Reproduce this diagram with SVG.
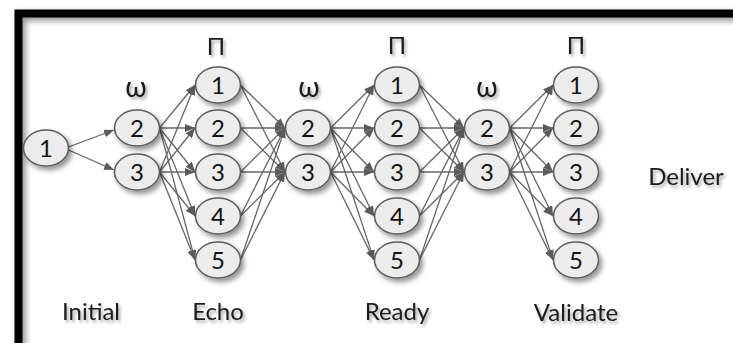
<svg xmlns="http://www.w3.org/2000/svg" width="733" height="343" viewBox="0 0 733 343">
<defs>
<style>
.t{font-family:Lato,"Open Sans","Liberation Sans",sans-serif;fill:#1a1a1a;text-anchor:middle}
.lbl{font-size:24px;filter:url(#ts)}
.sym{font-size:24px;filter:url(#ts)}
.om{font-size:28px;filter:url(#ts)}
.nd ellipse{fill:#ececec;stroke:#5c5c5c;stroke-width:1.5;filter:url(#ns)}
.nd text{font-family:Lato,"Open Sans","Liberation Sans",sans-serif;font-size:24px;fill:#141414;text-anchor:middle}
#edges line{stroke:#666;stroke-width:1.3;marker-end:url(#ah)}
</style>
<filter id="ns" x="-30%" y="-30%" width="170%" height="180%"><feDropShadow dx="3" dy="3.5" stdDeviation="2.4" flood-color="#000" flood-opacity="0.42"/></filter>
<filter id="ts" x="-20%" y="-30%" width="150%" height="180%"><feDropShadow dx="2" dy="2.5" stdDeviation="1.6" flood-color="#000" flood-opacity="0.35"/></filter>
<filter id="fs" x="-10%" y="-10%" width="130%" height="130%"><feDropShadow dx="3" dy="3" stdDeviation="3" flood-color="#000" flood-opacity="0.45"/></filter>
<marker id="ah" markerUnits="userSpaceOnUse" markerWidth="11" markerHeight="8" refX="10" refY="4" orient="auto"><path d="M0,0 L10,4 L0,8 z" fill="#5a5a5a"/></marker>
</defs>
<rect width="733" height="343" fill="#fff"/>
<rect x="18.5" y="13.5" width="800" height="500" fill="none" stroke="#000" stroke-width="8" filter="url(#fs)"/>

<g id="labels">
<text class="t om" x="136" y="97">ω</text>
<text class="t om" x="309" y="97">ω</text>
<text class="t om" x="487" y="97">ω</text>
<text class="t sym" x="216" y="55">Π</text>
<text class="t sym" x="397" y="54">Π</text>
<text class="t sym" x="576" y="54">Π</text>
<text class="t lbl" x="91" y="320">Initial</text>
<text class="t lbl" x="218" y="320">Echo</text>
<text class="t lbl" x="397" y="320">Ready</text>
<text class="t lbl" x="576" y="321">Validate</text>
<text class="t lbl" x="686" y="185">Deliver</text>
</g>

<g id="edges">
<line x1="68.5" y1="147" x2="114" y2="130"/>
<line x1="68.5" y1="150" x2="114" y2="170"/>

<line x1="159.5" y1="128" x2="195" y2="85"/>
<line x1="159.5" y1="128" x2="195" y2="128"/>
<line x1="159.5" y1="128" x2="195" y2="172"/>
<line x1="159.5" y1="128" x2="195" y2="216"/>
<line x1="159.5" y1="128" x2="195" y2="260"/>
<line x1="159.5" y1="172" x2="195" y2="85"/>
<line x1="159.5" y1="172" x2="195" y2="128"/>
<line x1="159.5" y1="172" x2="195" y2="172"/>
<line x1="159.5" y1="172" x2="195" y2="216"/>
<line x1="159.5" y1="172" x2="195" y2="260"/>

<line x1="240.5" y1="85" x2="285" y2="128"/>
<line x1="240.5" y1="128" x2="285" y2="128"/>
<line x1="240.5" y1="172" x2="285" y2="128"/>
<line x1="240.5" y1="216" x2="285" y2="128"/>
<line x1="240.5" y1="260" x2="285" y2="128"/>
<line x1="240.5" y1="85" x2="285" y2="172"/>
<line x1="240.5" y1="128" x2="285" y2="172"/>
<line x1="240.5" y1="172" x2="285" y2="172"/>
<line x1="240.5" y1="216" x2="285" y2="172"/>
<line x1="240.5" y1="260" x2="285" y2="172"/>

<line x1="330.5" y1="128" x2="374" y2="85"/>
<line x1="330.5" y1="128" x2="374" y2="128"/>
<line x1="330.5" y1="128" x2="374" y2="172"/>
<line x1="330.5" y1="128" x2="374" y2="216"/>
<line x1="330.5" y1="128" x2="374" y2="260"/>
<line x1="330.5" y1="172" x2="374" y2="85"/>
<line x1="330.5" y1="172" x2="374" y2="128"/>
<line x1="330.5" y1="172" x2="374" y2="172"/>
<line x1="330.5" y1="172" x2="374" y2="216"/>
<line x1="330.5" y1="172" x2="374" y2="260"/>

<line x1="419.5" y1="85" x2="464" y2="128"/>
<line x1="419.5" y1="128" x2="464" y2="128"/>
<line x1="419.5" y1="172" x2="464" y2="128"/>
<line x1="419.5" y1="216" x2="464" y2="128"/>
<line x1="419.5" y1="260" x2="464" y2="128"/>
<line x1="419.5" y1="85" x2="464" y2="172"/>
<line x1="419.5" y1="128" x2="464" y2="172"/>
<line x1="419.5" y1="172" x2="464" y2="172"/>
<line x1="419.5" y1="216" x2="464" y2="172"/>
<line x1="419.5" y1="260" x2="464" y2="172"/>

<line x1="509.5" y1="128" x2="553" y2="85"/>
<line x1="509.5" y1="128" x2="553" y2="128"/>
<line x1="509.5" y1="128" x2="553" y2="172"/>
<line x1="509.5" y1="128" x2="553" y2="216"/>
<line x1="509.5" y1="128" x2="553" y2="260"/>
<line x1="509.5" y1="172" x2="553" y2="85"/>
<line x1="509.5" y1="172" x2="553" y2="128"/>
<line x1="509.5" y1="172" x2="553" y2="172"/>
<line x1="509.5" y1="172" x2="553" y2="216"/>
<line x1="509.5" y1="172" x2="553" y2="260"/>
</g>

<g id="init-1" class="nd"><ellipse cx="46" cy="148" rx="22.5" ry="18"/><text x="46" y="156.5">1</text></g>

<g id="w1-2" class="nd"><ellipse cx="137" cy="128" rx="22.5" ry="18"/><text x="137" y="136.5">2</text></g>
<g id="w1-3" class="nd"><ellipse cx="137" cy="172" rx="22.5" ry="18"/><text x="137" y="180.5">3</text></g>

<g id="p1-1" class="nd"><ellipse cx="218" cy="85" rx="22.5" ry="18"/><text x="218" y="93.5">1</text></g>
<g id="p1-2" class="nd"><ellipse cx="218" cy="128" rx="22.5" ry="18"/><text x="218" y="136.5">2</text></g>
<g id="p1-3" class="nd"><ellipse cx="218" cy="172" rx="22.5" ry="18"/><text x="218" y="180.5">3</text></g>
<g id="p1-4" class="nd"><ellipse cx="218" cy="216" rx="22.5" ry="18"/><text x="218" y="224.5">4</text></g>
<g id="p1-5" class="nd"><ellipse cx="218" cy="260" rx="22.5" ry="18"/><text x="218" y="268.5">5</text></g>

<g id="w2-2" class="nd"><ellipse cx="308" cy="128" rx="22.5" ry="18"/><text x="308" y="136.5">2</text></g>
<g id="w2-3" class="nd"><ellipse cx="308" cy="172" rx="22.5" ry="18"/><text x="308" y="180.5">3</text></g>

<g id="p2-1" class="nd"><ellipse cx="397" cy="85" rx="22.5" ry="18"/><text x="397" y="93.5">1</text></g>
<g id="p2-2" class="nd"><ellipse cx="397" cy="128" rx="22.5" ry="18"/><text x="397" y="136.5">2</text></g>
<g id="p2-3" class="nd"><ellipse cx="397" cy="172" rx="22.5" ry="18"/><text x="397" y="180.5">3</text></g>
<g id="p2-4" class="nd"><ellipse cx="397" cy="216" rx="22.5" ry="18"/><text x="397" y="224.5">4</text></g>
<g id="p2-5" class="nd"><ellipse cx="397" cy="260" rx="22.5" ry="18"/><text x="397" y="268.5">5</text></g>

<g id="w3-2" class="nd"><ellipse cx="487" cy="128" rx="22.5" ry="18"/><text x="487" y="136.5">2</text></g>
<g id="w3-3" class="nd"><ellipse cx="487" cy="172" rx="22.5" ry="18"/><text x="487" y="180.5">3</text></g>

<g id="p3-1" class="nd"><ellipse cx="576" cy="85" rx="22.5" ry="18"/><text x="576" y="93.5">1</text></g>
<g id="p3-2" class="nd"><ellipse cx="576" cy="128" rx="22.5" ry="18"/><text x="576" y="136.5">2</text></g>
<g id="p3-3" class="nd"><ellipse cx="576" cy="172" rx="22.5" ry="18"/><text x="576" y="180.5">3</text></g>
<g id="p3-4" class="nd"><ellipse cx="576" cy="216" rx="22.5" ry="18"/><text x="576" y="224.5">4</text></g>
<g id="p3-5" class="nd"><ellipse cx="576" cy="260" rx="22.5" ry="18"/><text x="576" y="268.5">5</text></g>
</svg>
